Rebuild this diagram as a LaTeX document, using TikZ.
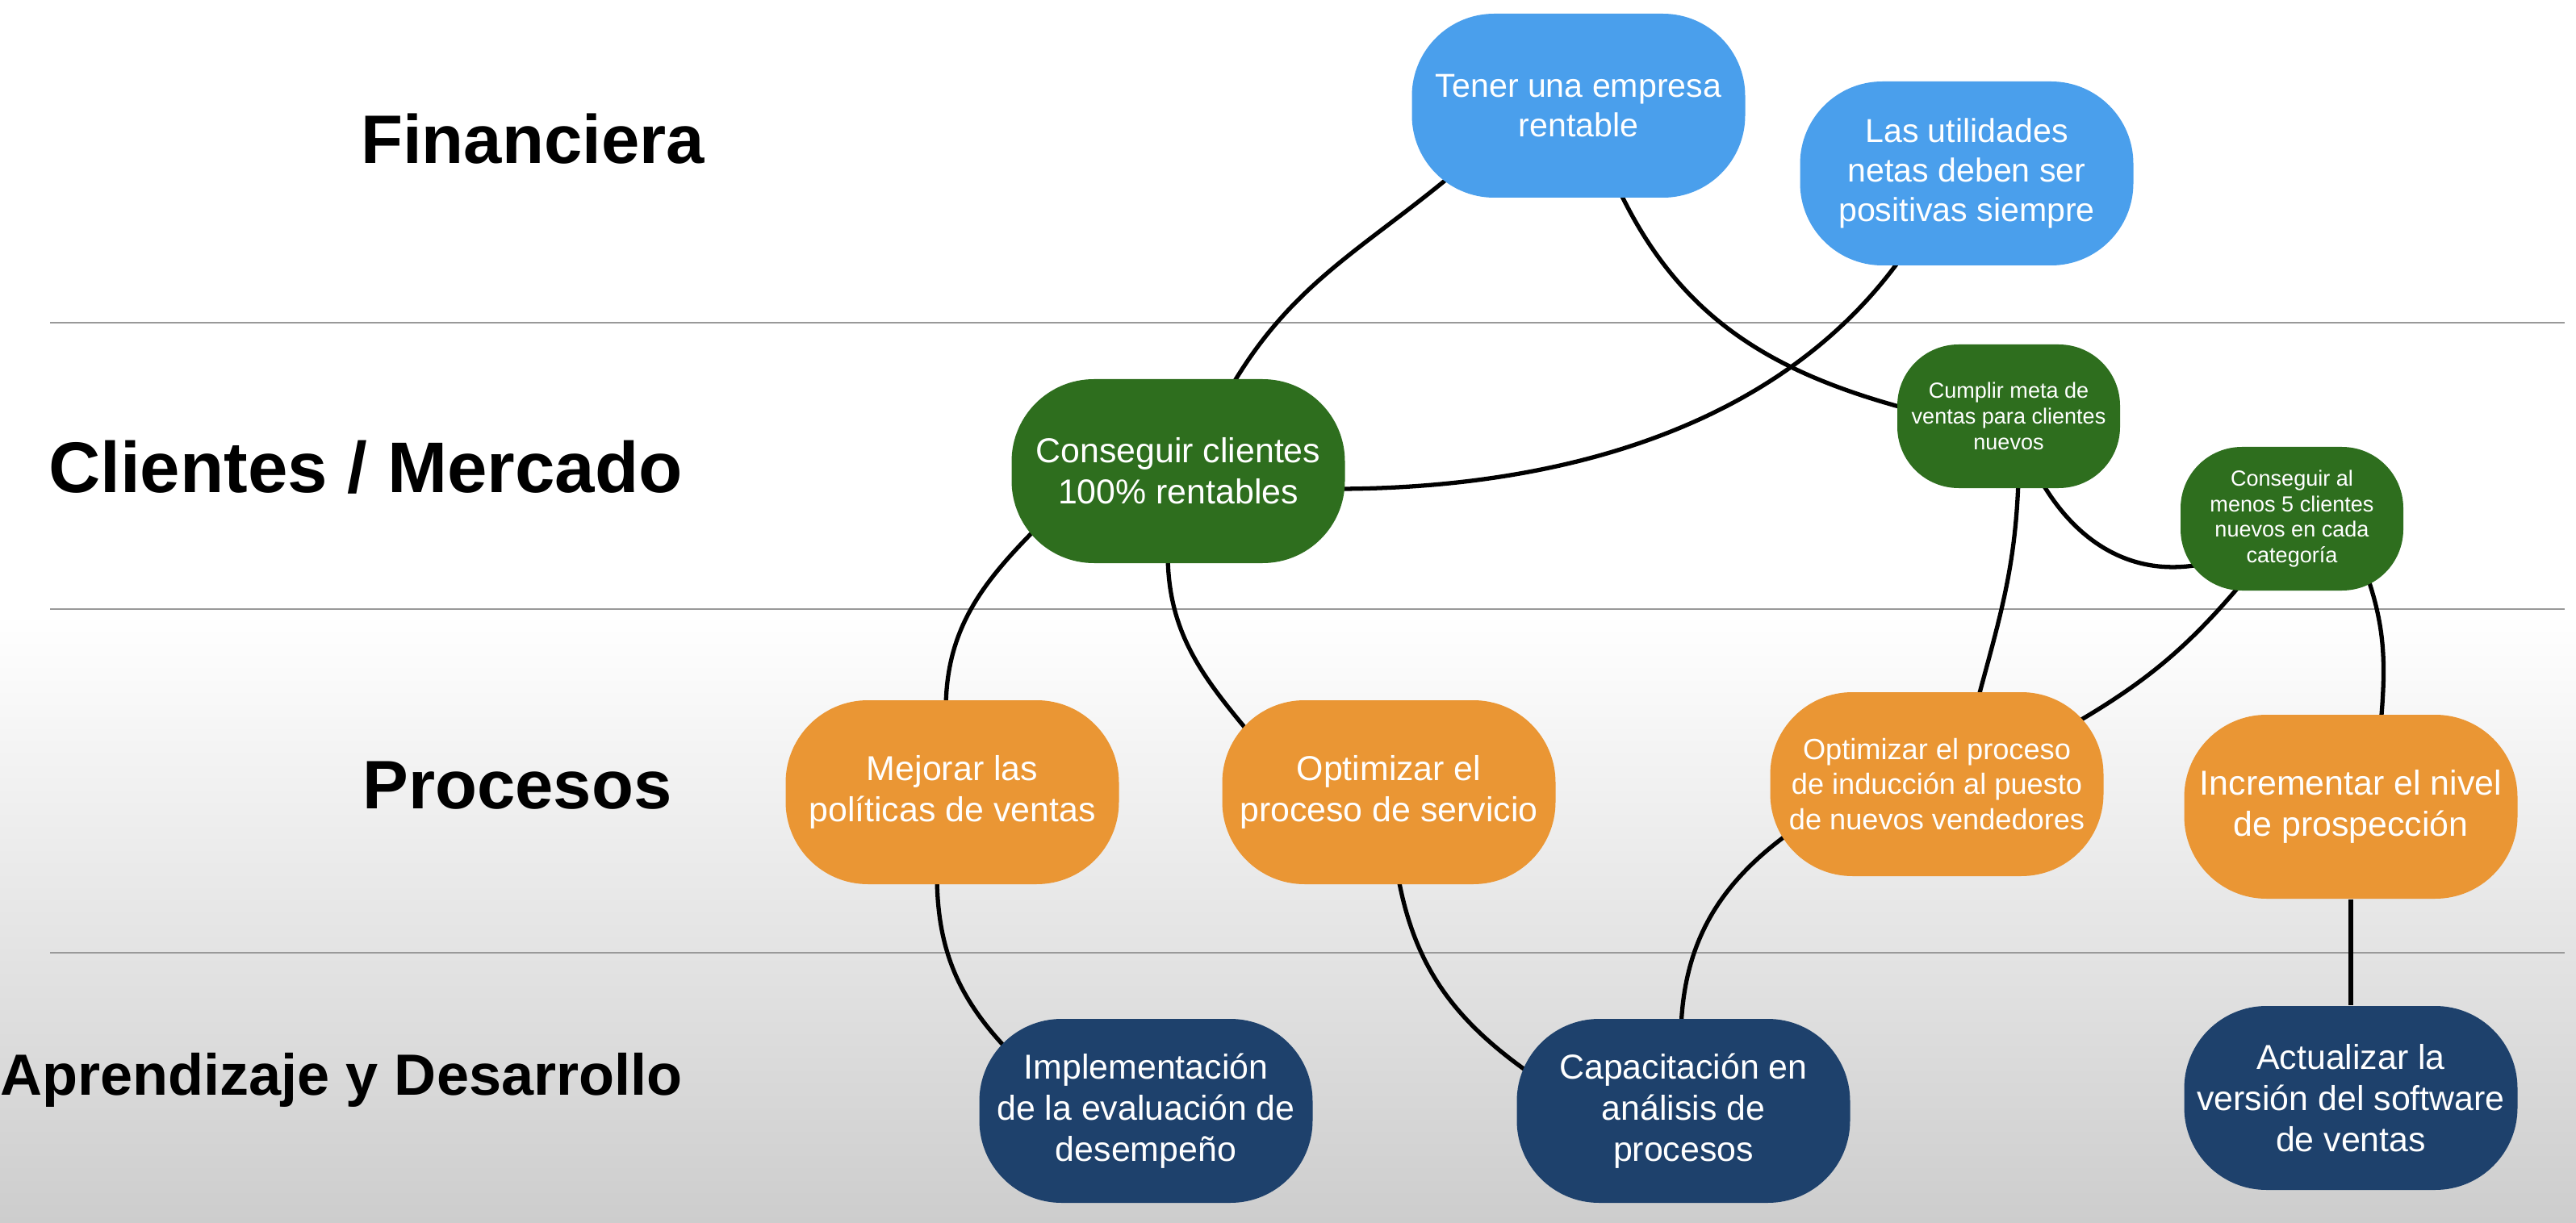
\documentclass[tikz,border=0pt]{standalone}
\usepackage{fontspec}
\setmainfont{Liberation Sans}

\definecolor{finblue}{RGB}{74,159,236}
\definecolor{cligreen}{RGB}{46,110,30}
\definecolor{procorange}{RGB}{234,150,52}
\definecolor{aprnavy}{RGB}{30,65,108}
\definecolor{floorgray}{RGB}{205,205,205}

\pgfdeclarelayer{back}
\pgfdeclarelayer{links}
\pgfsetlayers{back,links,main}

\begin{document}
\begin{tikzpicture}[
    goal/.style={rectangle,rounded corners=1.02cm,minimum width=4.13cm,minimum height=2.28cm,
        inner sep=0pt,align=center,text=white,font=\fontsize{12.2}{14.5}\selectfont},
    smallgoal/.style={goal,rounded corners=0.76cm,minimum width=2.76cm,minimum height=1.78cm,
        font=\fontsize{7.7}{9.1}\selectfont},
    fin/.style={goal,fill=finblue,font=\fontsize{11.7}{13.9}\selectfont},
    cli/.style={goal,fill=cligreen},
    proc/.style={goal,fill=procorange},
    apr/.style={goal,fill=aprnavy},
    persp/.style={anchor=base,font=\bfseries\fontsize{24.2}{29}\selectfont},
    link/.style={line width=1.5pt},
    sep/.style={black!40,line width=0.8pt}
]
        \useasboundingbox (0,0) rectangle (31.92,-15.16);

        \begin{pgfonlayer}{back}
        \fill[white] (0,0) rectangle (31.92,-15.16);
        \shade[top color=white,bottom color=floorgray] (0,-7.6) rectangle (31.92,-15.16);
        \foreach \y in {-4.00,-7.55,-11.81}
            \draw[sep] (0.62,\y) -- (31.78,\y);
        \end{pgfonlayer}

        % perspectives
        \node[persp] (finl) at (6.60,-2.03) {Financiera};
        \node[persp,font=\bfseries\fontsize{25.3}{30}\selectfont] (clil) at (4.53,-6.11) {Clientes / Mercado};
        \node[persp] (procl) at (6.41,-10.02) {Procesos};
        \node[persp,font=\bfseries\fontsize{20.5}{25}\selectfont] (aprl) at (4.23,-13.57) {Aprendizaje y Desarrollo};

        % objectives
        \node[fin] (tener) at (19.56,-1.31) {Tener una empresa\\rentable};
        \node[fin] (utilidades) at (24.37,-2.15) {Las utilidades\\netas deben ser\\positivas siempre};

        \node[cli] (conseguir) at (14.60,-5.84) {Conseguir clientes\\100\% rentables};
        \node[cli,smallgoal] (cumplir) at (24.89,-5.16) {Cumplir meta de\\ventas para clientes\\nuevos};
        \node[cli,smallgoal] (almenos) at (28.40,-6.43) {Conseguir al\\menos 5 clientes\\nuevos en cada\\categoría};

        \node[proc] (mejorar) at (11.80,-9.82) {Mejorar las\\políticas de ventas};
        \node[proc] (servicio) at (17.21,-9.82) {Optimizar el\\proceso de servicio};
        \node[proc,font=\fontsize{10.3}{12.3}\selectfont] (induccion) at (24.00,-9.72) {Optimizar el proceso\\de inducción al puesto\\de nuevos vendedores};
        \node[proc] (incrementar) at (29.13,-10.00) {Incrementar el nivel\\de prospección};

        \node[apr] (implementacion) at (14.20,-13.77) {Implementación\\de la evaluación de\\desempeño};
        \node[apr] (capacitacion) at (20.86,-13.77) {Capacitación en\\análisis de\\procesos};
        \node[apr] (actualizar) at (29.13,-13.61) {Actualizar la\\versión del software\\de ventas};

        \begin{pgfonlayer}{links}
        \draw[link] ([shift={(-1.5,-0.8)}]tener.center) to[out=-140,in=60] ([shift={(0.63,1.0)}]conseguir.center);
        \draw[link] ([shift={(0.48,-1.0)}]tener.center) to[out=-65,in=165] ([shift={(-1.25,0.09)}]cumplir.center);
        \draw[link] ([shift={(-0.78,-1.0)}]utilidades.center) to[out=-125,in=0,looseness=0.9] ([shift={(1.95,-0.22)}]conseguir.center);
        \draw[link] ([shift={(0.12,-0.8)}]cumplir.center) to[out=-92,in=75] ([shift={(0.5,1.02)}]induccion.center);
        \draw[link] ([shift={(0.40,-0.8)}]cumplir.center) to[out=-60,in=190] ([shift={(-1.15,-0.57)}]almenos.center);
        \draw[link] ([shift={(-0.58,-0.75)}]almenos.center) to[out=-130,in=30] ([shift={(1.62,0.7)}]induccion.center);
        \draw[link] ([shift={(0.9,-0.62)}]almenos.center) to[out=-70,in=85] ([shift={(0.37,1.02)}]incrementar.center);
        \draw[link] ([shift={(-1.7,-0.65)}]conseguir.center) to[out=-135,in=90] ([shift={(-0.08,1.02)}]mejorar.center);
        \draw[link] ([shift={(-0.13,-1.02)}]conseguir.center) to[out=-90,in=130] ([shift={(-1.65,0.64)}]servicio.center);
        \draw[link] ([shift={(-0.19,-1.02)}]mejorar.center) to[out=-90,in=135] ([shift={(-1.62,0.66)}]implementacion.center);
        \draw[link] ([shift={(0.11,-1.02)}]servicio.center) to[out=-80,in=145] ([shift={(-1.88,0.45)}]capacitacion.center);
        \draw[link] ([shift={(-0.03,1.02)}]capacitacion.center) to[out=88,in=-145] ([shift={(-1.75,-0.55)}]induccion.center);
        \draw[link] (incrementar) -- (actualizar);
        \end{pgfonlayer}
\end{tikzpicture}
\end{document}
